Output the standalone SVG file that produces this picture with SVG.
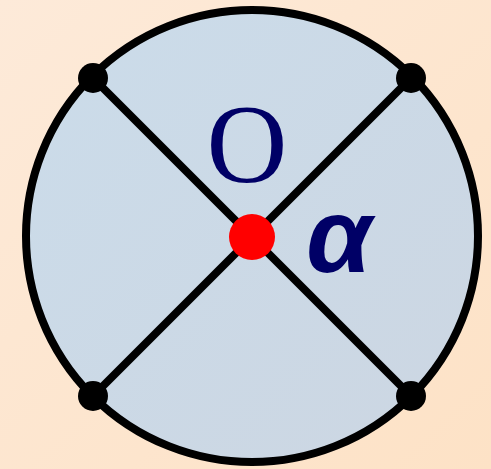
<svg xmlns="http://www.w3.org/2000/svg" width="491" height="469" viewBox="0 0 491 469">
<defs>
<linearGradient id="bg" x1="0" y1="0" x2="1" y2="1">
<stop offset="0" stop-color="#fdead9"/>
<stop offset="1" stop-color="#fde2c6"/>
</linearGradient>
<linearGradient id="disc" x1="0" y1="0" x2="1" y2="1">
<stop offset="0" stop-color="#cbdcea"/>
<stop offset="1" stop-color="#ccd6e2"/>
</linearGradient>
<style>
.edge{stroke:#000;stroke-width:8;fill:none}
.pt{fill:#000}
.lbl{fill:#000066}
</style>
</defs>
<rect width="491" height="469" fill="url(#bg)"/>
<g id="circle">
<circle cx="252" cy="236" r="226" fill="url(#disc)" stroke="#000" stroke-width="8"/>
</g>
<g id="connectors">
<line class="edge" x1="93" y1="78" x2="411" y2="396"/>
<line class="edge" x1="411" y1="78" x2="93" y2="396"/>
</g>
<g id="p1"><circle class="pt" cx="93" cy="78" r="15"/></g>
<g id="p2"><circle class="pt" cx="411" cy="78" r="15"/></g>
<g id="p3"><circle class="pt" cx="93" cy="396" r="15"/></g>
<g id="p4"><circle class="pt" cx="411" cy="396" r="15"/></g>
<g id="center"><circle cx="252" cy="237" r="23" fill="#ff0000"/></g>
<g id="label-O"><text class="lbl" x="247" y="182" text-anchor="middle" font-family="'Liberation Serif', serif" font-size="112">O</text></g>
<g id="label-alpha"><text class="lbl" x="339" y="272" text-anchor="middle" font-family="'Liberation Sans', sans-serif" font-weight="bold" font-style="italic" font-size="106">α</text></g>
</svg>
